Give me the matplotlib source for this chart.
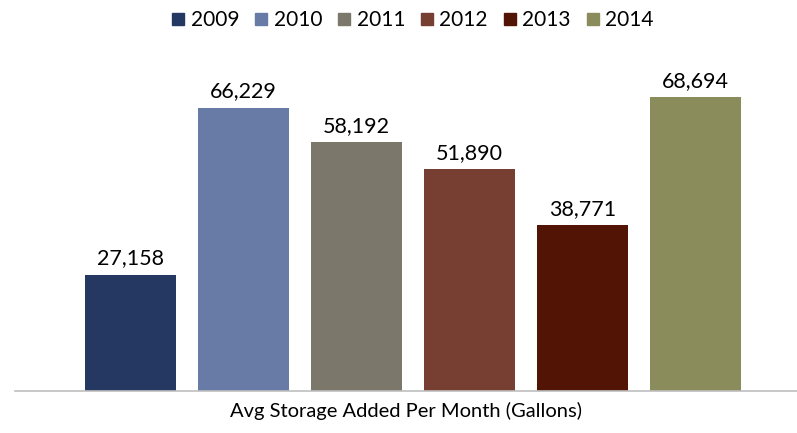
import matplotlib
matplotlib.use("Agg")
import matplotlib.pyplot as plt
from matplotlib.lines import Line2D

years = ["2009", "2010", "2011", "2012", "2013", "2014"]
values = [27158, 66229, 58192, 51890, 38771, 68694]
colors = ["#253862", "#687ba6", "#7b776b", "#763f32", "#521505", "#8b8c5b"]

plt.rcParams['font.family'] = ['Lato', 'DejaVu Sans']

fig = plt.figure(figsize=(7.97, 4.33), dpi=100)
ax = fig.add_axes([0.019, 0.097, 0.981, 0.79])

x = list(range(len(years)))
bars = ax.bar(x, values, width=0.8, color=colors)
for b, v in zip(bars, values):
    ax.text(b.get_x() + b.get_width() / 2, v + 1500, f"{v:,}",
            ha="center", va="bottom", fontsize=15.5, color="#000000")

ax.set_xlim(-1.02, 5.9)
ax.set_ylim(0, 80000)
ax.set_yticks([])
ax.set_xticks([])
for s in ["top", "right", "left"]:
    ax.spines[s].set_visible(False)
ax.spines["bottom"].set_color("#bfbfbf")
ax.spines["bottom"].set_linewidth(1.2)

ax.set_xlabel("Avg Storage Added Per Month (Gallons)", fontsize=14.5, labelpad=8)

handles = [Line2D([], [], marker="s", linestyle="none", markersize=8.5,
                  markerfacecolor=c, markeredgecolor=c) for c in colors]
fig.legend(handles, years, loc="upper center", bbox_to_anchor=(0.518, 1.02),
           ncol=6, frameon=False, fontsize=15, handlelength=0.6,
           handletextpad=0.3, columnspacing=0.75)

fig.savefig("out.png", dpi=100)
